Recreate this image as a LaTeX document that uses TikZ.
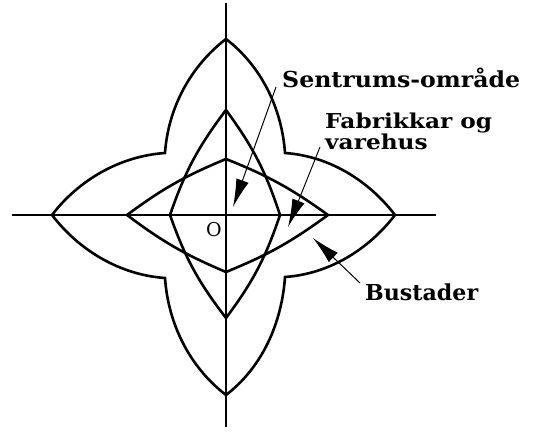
\documentclass[tikz,border=0pt]{standalone}
\usepackage{fontspec}
\usepackage{graphicx}
\setmainfont{DejaVu Serif}
\usetikzlibrary{arrows.meta}
\newsavebox\lblbox
\newcommand\wfit[2]{\sbox\lblbox{#2}\edef\wfac{\fpeval{#1/(\the\wd\lblbox)}}\scalebox{\wfac}[1]{\usebox\lblbox}}
\begin{document}
\begin{tikzpicture}[x=1pt,y=1pt,
  zone/.style={line width=2.6pt, line join=miter},
  axisline/.style={line width=1.5pt},
  pointer/.style={line width=1pt, -{Latex[length=28pt,width=13pt]}},
  lbl/.style={inner sep=0pt, anchor=base west, font=\fontsize{22}{19}\selectfont\bfseries},
  petal/.style={looseness=0.89}]
\useasboundingbox (-226,-216) rectangle (309,215);
% axes
\coordinate (xl) at (-214,0); \coordinate (xr) at (210,0);
\coordinate (yt) at (0,212);  \coordinate (yb) at (0,-212);
\draw[axisline] (xl) -- (xr);
\draw[axisline] (yt) -- (yb);
% outer star (Bustader)
\coordinate (T) at (0,176);   \coordinate (R) at (169,0);
\coordinate (B) at (0,-180);  \coordinate (L) at (-174,0);
\coordinate (UL) at (-61,62); \coordinate (UR) at (59,62);
\coordinate (LR) at (59,-62); \coordinate (LL) at (-61,-63);
\draw[zone] (UL) to[petal,out=86,in=-142.5] (T)
  to[petal,out=-37.5,in=94] (UR)
  to[petal,out=-4,in=127.5] (R)
  to[petal,out=-127.5,in=4] (LR)
  to[petal,out=-94,in=37.5] (B)
  to[petal,out=142.5,in=-86] (LL)
  to[petal,out=176,in=-52.5] (L)
  to[petal,out=52.5,in=-176] (UL) -- cycle;
% vertical diamond
\coordinate (T2) at (0,105); \coordinate (R2) at (54,0);
\coordinate (B2) at (0,-103); \coordinate (L2) at (-56,0);
\draw[zone] (T2) to[bend left=9] (R2) to[bend left=9] (B2)
  to[bend left=9] (L2) to[bend left=9] (T2) -- cycle;
% horizontal diamond
\coordinate (T3) at (0,56); \coordinate (R3) at (102,0);
\coordinate (B3) at (0,-57); \coordinate (L3) at (-99,0);
\draw[zone] (T3) to[bend left=7] (R3) to[bend left=7] (B3)
  to[bend left=7] (L3) to[bend left=7] (T3) -- cycle;
% labels
\node[lbl] (sent) at (56,127) {\wfit{238}{Sentrums-område}};
\node[lbl, font=\fontsize{20.5}{21}\selectfont\bfseries] (fab) at (99,65) {\wfit{167}{\vbox{\baselineskip=21pt\lineskiplimit=-100pt\hbox{Fabrikkar og}\hbox{varehus}}}};
\node[lbl] (bust) at (139,-85) {\wfit{113}{Bustader}};
\node[inner sep=0pt, font=\fontsize{19}{19}\selectfont] (orig) at (-12,-15) {O};
% arrows
\coordinate (s1) at (50,128); \coordinate (s2) at (7,8);
\coordinate (f1) at (94,68);  \coordinate (f2) at (62,-12);
\coordinate (b1) at (134,-68); \coordinate (b2) at (87,-23);
\draw[pointer] (s1) -- (s2);
\draw[pointer] (f1) -- (f2);
\draw[pointer] (b1) -- (b2);
\end{tikzpicture}
\end{document}
